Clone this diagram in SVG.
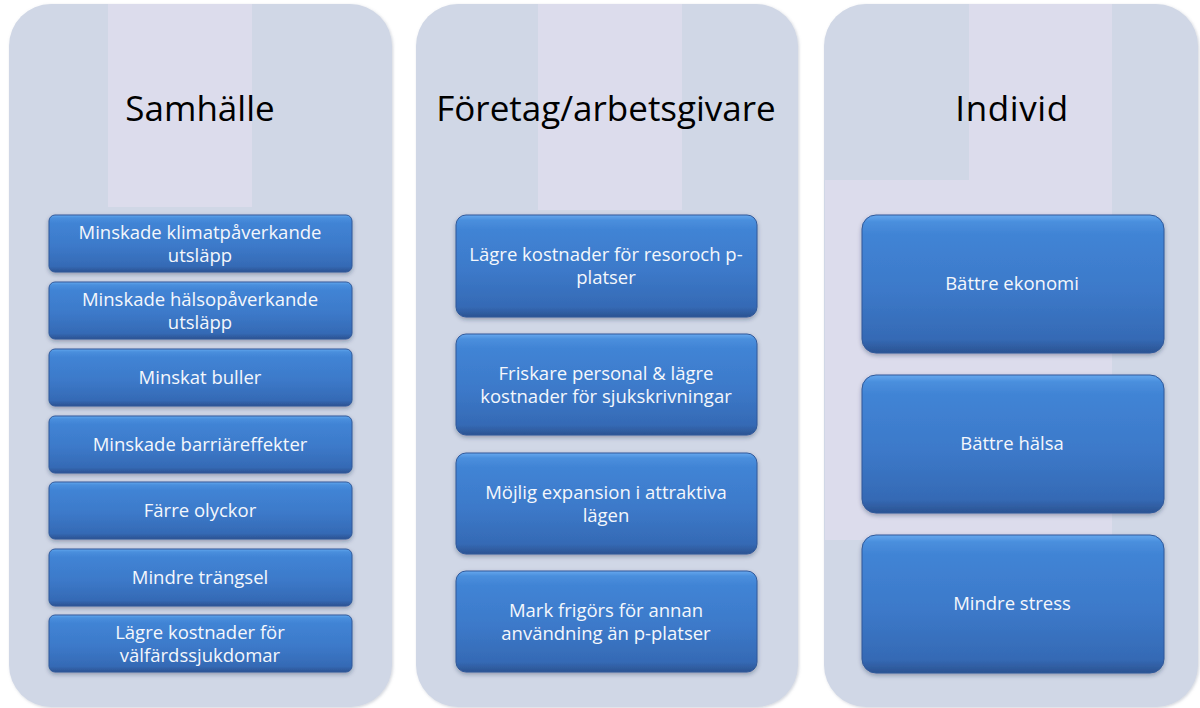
<svg xmlns="http://www.w3.org/2000/svg" width="1200" height="708" viewBox="0 0 1200 708">
<style>
.panel{fill:#d0d7e6;}
.stripe{fill:#dcdcec;}
.box{fill:url(#boxFill);stroke:#30599a;stroke-width:1;filter:url(#boxShadow);}
.hdr{font-family:"Open Sans","DejaVu Sans",sans-serif;font-size:35px;fill:#000;text-anchor:middle;}
.lbl{font-family:"Open Sans","DejaVu Sans",sans-serif;font-size:18.5px;fill:#f4f7fc;text-anchor:middle;}
</style>
<defs>
<linearGradient id="boxFill" x1="0" y1="0" x2="0" y2="1">
<stop offset="0" stop-color="#66a8ee"/>
<stop offset="0.05" stop-color="#4a8fdd"/>
<stop offset="0.14" stop-color="#4184d5"/>
<stop offset="0.55" stop-color="#3c79c9"/>
<stop offset="0.9" stop-color="#356ab5"/>
<stop offset="1" stop-color="#2b5392"/>
</linearGradient>
<filter id="boxShadow" x="-5%" y="-10%" width="110%" height="130%">
<feDropShadow dx="0" dy="2" stdDeviation="2" flood-color="#1c2c48" flood-opacity="0.35"/>
</filter>
<filter id="panelShadow" x="-5%" y="-5%" width="110%" height="110%">
<feDropShadow dx="1" dy="1" stdDeviation="1.5" flood-color="#7a8298" flood-opacity="0.35"/>
</filter>
</defs>
<rect width="1200" height="708" fill="#ffffff"/>

<g id="panel-samhalle">
<rect class="panel" x="9" y="4" width="383" height="703" rx="42" filter="url(#panelShadow)"/>
<rect class="stripe" x="108" y="4" width="144" height="203"/>
<text class="hdr" x="200" y="121">Samhälle</text>
</g>

<g id="panel-foretag">
<rect class="panel" x="416" y="4" width="382" height="703" rx="42" filter="url(#panelShadow)"/>
<rect class="stripe" x="538" y="4" width="144" height="206"/>
<text class="hdr" x="606" y="121">Företag/arbetsgivare</text>
</g>

<g id="panel-individ">
<rect class="panel" x="824" y="4" width="374" height="703" rx="42" filter="url(#panelShadow)"/>
<rect class="stripe" x="969" y="4" width="143" height="176"/>
<rect class="stripe" x="825" y="180" width="287" height="360"/>
<text class="hdr" x="1012" y="121" letter-spacing="0.6">Individ</text>
</g>

<g id="connectors"/>

<g id="s1"><rect class="box" x="49" y="215" width="303" height="57" rx="6"/>
<text class="lbl" x="200" y="239">Minskade klimatpåverkande</text><text class="lbl" x="200" y="262">utsläpp</text></g>
<g id="s2"><rect class="box" x="49" y="282" width="303" height="57" rx="6"/>
<text class="lbl" x="200" y="306">Minskade hälsopåverkande</text><text class="lbl" x="200" y="329">utsläpp</text></g>
<g id="s3"><rect class="box" x="49" y="349" width="303" height="57" rx="6"/>
<text class="lbl" x="200" y="384">Minskat buller</text></g>
<g id="s4"><rect class="box" x="49" y="416" width="303" height="57" rx="6"/>
<text class="lbl" x="200" y="451">Minskade barriäreffekter</text></g>
<g id="s5"><rect class="box" x="49" y="482" width="303" height="57" rx="6"/>
<text class="lbl" x="200" y="517">Färre olyckor</text></g>
<g id="s6"><rect class="box" x="49" y="549" width="303" height="57" rx="6"/>
<text class="lbl" x="200" y="584">Mindre trängsel</text></g>
<g id="s7"><rect class="box" x="49" y="615" width="303" height="57" rx="6"/>
<text class="lbl" x="200" y="639">Lägre kostnader för</text><text class="lbl" x="200" y="662">välfärdssjukdomar</text></g>

<g id="f1"><rect class="box" x="456" y="215" width="301" height="102" rx="10"/>
<text class="lbl" x="606" y="261">Lägre kostnader för resoroch p-</text><text class="lbl" x="606" y="284">platser</text></g>
<g id="f2"><rect class="box" x="456" y="334" width="301" height="101" rx="10"/>
<text class="lbl" x="606" y="380">Friskare personal &amp; lägre</text><text class="lbl" x="606" y="403">kostnader för sjukskrivningar</text></g>
<g id="f3"><rect class="box" x="456" y="453" width="301" height="101" rx="10"/>
<text class="lbl" x="606" y="499">Möjlig expansion i attraktiva</text><text class="lbl" x="606" y="522">lägen</text></g>
<g id="f4"><rect class="box" x="456" y="571" width="301" height="101" rx="10"/>
<text class="lbl" x="606" y="617">Mark frigörs för annan</text><text class="lbl" x="606" y="640">användning än p-platser</text></g>

<g id="i1"><rect class="box" x="862" y="215" width="302" height="138" rx="14"/>
<text class="lbl" x="1012" y="290">Bättre ekonomi</text></g>
<g id="i2"><rect class="box" x="862" y="375" width="302" height="138" rx="14"/>
<text class="lbl" x="1012" y="450">Bättre hälsa</text></g>
<g id="i3"><rect class="box" x="862" y="535" width="302" height="138" rx="14"/>
<text class="lbl" x="1012" y="610">Mindre stress</text></g>
</svg>
